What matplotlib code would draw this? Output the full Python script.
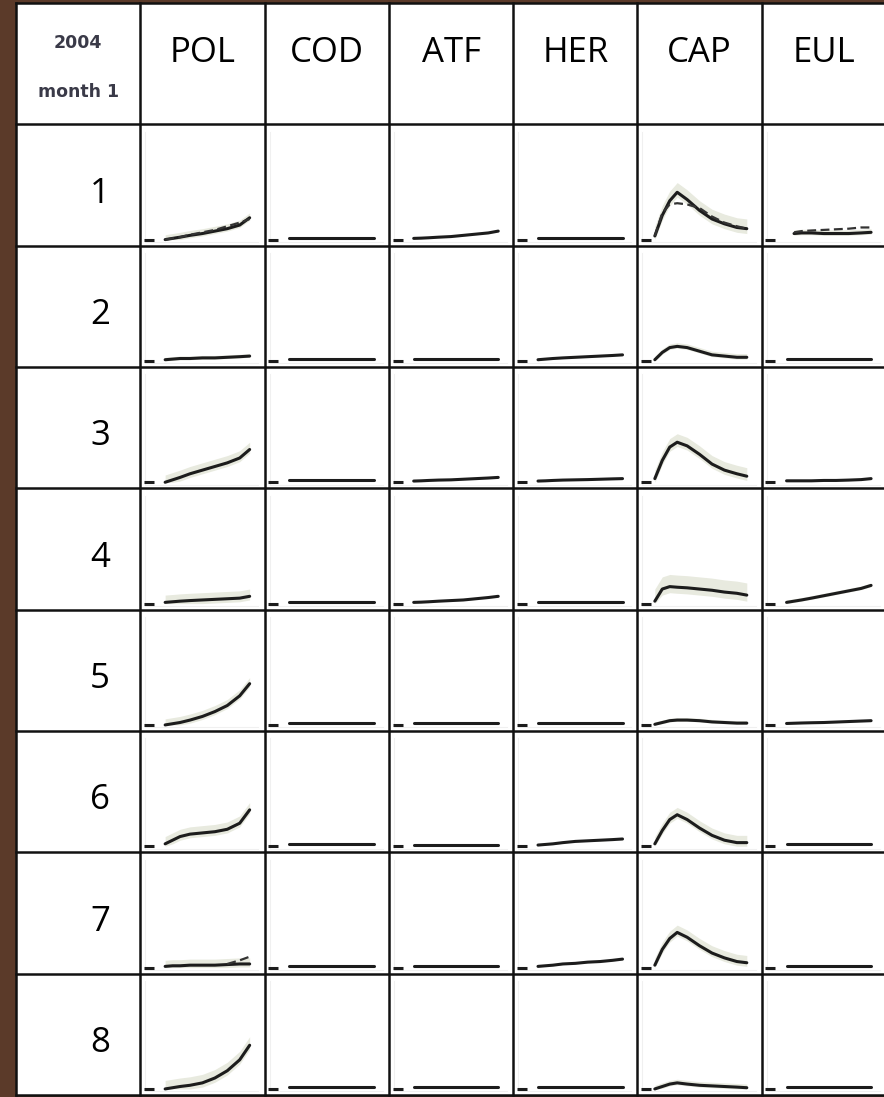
"""Monthly response curves per species, 2004"""

import numpy as np
import matplotlib
matplotlib.use("Agg")
from matplotlib import pyplot as plt

N = np.nan

# species across the top, months down the side
species = ["POL", "COD", "ATF", "HER", "CAP", "EUL"]
months = ["1", "2", "3", "4", "5", "6", "7", "8"]

# x positions inside a cell (fraction of cell width)
x_frac = [0.14, 0.20, 0.26, 0.32, 0.40, 0.50, 0.60, 0.70, 0.80, 0.88]

# curve height above the cell baseline (fraction of row height), one row per month
POL = [
    [N, 0.00, 0.01, 0.02, 0.035, 0.05, 0.07, 0.09, 0.12, 0.18],
    [N, 0.01, 0.015, 0.02, 0.02, 0.025, 0.025, 0.03, 0.035, 0.04],
    [N, 0.00, 0.02, 0.04, 0.07, 0.10, 0.13, 0.16, 0.20, 0.27],
    [N, 0.01, 0.015, 0.02, 0.025, 0.03, 0.035, 0.04, 0.045, 0.06],
    [N, 0.00, 0.01, 0.02, 0.04, 0.07, 0.11, 0.16, 0.24, 0.34],
    [N, 0.02, 0.05, 0.08, 0.10, 0.11, 0.12, 0.14, 0.19, 0.30],
    [N, 0.01, 0.015, 0.015, 0.02, 0.02, 0.02, 0.025, 0.03, 0.03],
    [N, 0.00, 0.01, 0.02, 0.03, 0.05, 0.09, 0.15, 0.24, 0.36],
]
COD = [
    [N, 0.015, 0.015, 0.015, 0.015, 0.015, 0.015, 0.015, 0.015, 0.015],
    [N, 0.012, 0.012, 0.012, 0.012, 0.012, 0.012, 0.012, 0.012, 0.012],
    [N, 0.015, 0.015, 0.015, 0.015, 0.015, 0.015, 0.015, 0.015, 0.015],
    [N, 0.012, 0.012, 0.012, 0.012, 0.012, 0.012, 0.012, 0.012, 0.012],
    [N, 0.015, 0.015, 0.015, 0.015, 0.015, 0.015, 0.015, 0.015, 0.015],
    [N, 0.015, 0.015, 0.015, 0.015, 0.015, 0.015, 0.015, 0.015, 0.015],
    [N, 0.015, 0.015, 0.015, 0.015, 0.015, 0.015, 0.015, 0.015, 0.015],
    [N, 0.012, 0.012, 0.012, 0.012, 0.012, 0.012, 0.012, 0.012, 0.012],
]
ATF = [
    [N, 0.01, 0.012, 0.015, 0.02, 0.025, 0.035, 0.045, 0.055, 0.07],
    [N, 0.012, 0.012, 0.012, 0.012, 0.012, 0.012, 0.012, 0.012, 0.012],
    [N, 0.01, 0.012, 0.015, 0.018, 0.02, 0.025, 0.03, 0.035, 0.04],
    [N, 0.01, 0.012, 0.015, 0.02, 0.025, 0.03, 0.04, 0.05, 0.06],
    [N, 0.012, 0.012, 0.012, 0.012, 0.012, 0.012, 0.012, 0.012, 0.012],
    [N, 0.012, 0.012, 0.012, 0.012, 0.012, 0.012, 0.012, 0.012, 0.012],
    [N, 0.012, 0.012, 0.012, 0.012, 0.012, 0.012, 0.012, 0.012, 0.012],
    [N, 0.012, 0.012, 0.012, 0.012, 0.012, 0.012, 0.012, 0.012, 0.012],
]
HER = [
    [N, 0.012, 0.012, 0.012, 0.012, 0.012, 0.012, 0.012, 0.012, 0.012],
    [N, 0.01, 0.015, 0.02, 0.025, 0.03, 0.035, 0.04, 0.045, 0.05],
    [N, 0.01, 0.012, 0.015, 0.018, 0.02, 0.022, 0.025, 0.028, 0.03],
    [N, 0.012, 0.012, 0.012, 0.012, 0.012, 0.012, 0.012, 0.012, 0.012],
    [N, 0.012, 0.012, 0.012, 0.012, 0.012, 0.012, 0.012, 0.012, 0.012],
    [N, 0.01, 0.015, 0.02, 0.03, 0.04, 0.045, 0.05, 0.055, 0.06],
    [N, 0.01, 0.015, 0.02, 0.03, 0.035, 0.045, 0.05, 0.06, 0.07],
    [N, 0.012, 0.012, 0.012, 0.012, 0.012, 0.012, 0.012, 0.012, 0.012],
]
CAP = [
    [0.03, 0.20, 0.32, 0.39, 0.33, 0.24, 0.17, 0.13, 0.10, 0.09],
    [0.01, 0.07, 0.11, 0.12, 0.11, 0.08, 0.05, 0.04, 0.03, 0.03],
    [0.03, 0.18, 0.29, 0.33, 0.30, 0.23, 0.15, 0.10, 0.07, 0.05],
    [0.02, 0.12, 0.14, 0.135, 0.13, 0.12, 0.11, 0.095, 0.085, 0.07],
    [0.005, 0.02, 0.035, 0.04, 0.04, 0.035, 0.025, 0.02, 0.015, 0.015],
    [0.02, 0.13, 0.22, 0.26, 0.22, 0.15, 0.09, 0.05, 0.03, 0.03],
    [0.02, 0.15, 0.24, 0.29, 0.25, 0.18, 0.12, 0.08, 0.05, 0.04],
    [0.00, 0.02, 0.04, 0.05, 0.04, 0.03, 0.025, 0.02, 0.015, 0.01],
]
EUL = [
    [N, N, 0.05, 0.055, 0.055, 0.05, 0.05, 0.05, 0.055, 0.06],
    [N, 0.012, 0.012, 0.012, 0.012, 0.012, 0.012, 0.012, 0.012, 0.012],
    [N, 0.012, 0.012, 0.012, 0.012, 0.015, 0.015, 0.018, 0.022, 0.03],
    [N, 0.01, 0.02, 0.03, 0.045, 0.065, 0.085, 0.105, 0.125, 0.15],
    [N, 0.012, 0.014, 0.016, 0.018, 0.02, 0.024, 0.028, 0.032, 0.035],
    [N, 0.015, 0.015, 0.015, 0.015, 0.015, 0.015, 0.015, 0.015, 0.015],
    [N, 0.012, 0.012, 0.012, 0.012, 0.012, 0.012, 0.012, 0.012, 0.012],
    [N, 0.012, 0.012, 0.012, 0.012, 0.012, 0.012, 0.012, 0.012, 0.012],
]
curves = [POL, COD, ATF, HER, CAP, EUL]

# half-width of the pale confidence band per cell
band_POL = [0.04, 0.02, 0.06, 0.06, 0.05, 0.06, 0.05, 0.07]
band_COD = [0.0] * 8
band_ATF = [0.01, 0.0, 0.0, 0.01, 0.0, 0.0, 0.0, 0.0]
band_HER = [0.0, 0.01, 0.0, 0.0, 0.0, 0.01, 0.01, 0.0]
band_CAP = [0.08, 0.03, 0.07, 0.10, 0.02, 0.06, 0.06, 0.03]
band_EUL = [0.03, 0.0, 0.01, 0.02, 0.01, 0.0, 0.0, 0.0]
bands = [band_POL, band_COD, band_ATF, band_HER, band_CAP, band_EUL]

# second (dashed) fit where it separates from the solid one
dashed_lines = {
    (0, 0): [N, 0.0, 0.01, 0.02, 0.04, 0.06, 0.08, 0.11, 0.14, 0.17],
    (0, 6): [N, N, N, N, N, N, N, 0.03, 0.06, 0.09],
    (4, 0): [0.03, 0.22, 0.29, 0.30, 0.29, 0.26, 0.19, 0.14, 0.11, 0.09],
    (5, 0): [N, N, 0.06, 0.07, 0.075, 0.08, 0.085, 0.09, 0.10, 0.10],
}

W, H = 884, 1097
fig = plt.figure(figsize=(W / 100, H / 100), dpi=100)
fig.patch.set_facecolor("#5b3a29")

# grid area: left edge at x=16, right edge just past the picture
ax = fig.add_axes([16 / W, 2 / H, 870 / W, 1092 / H])
ax.set_facecolor("white")
ax.set_xlim(0, 7)
ax.set_ylim(9, 0)
ax.set_xticks([])
ax.set_yticks([])
for sp in ax.spines.values():
    sp.set_visible(False)

ncol, nrow = 7, 9
base = 0.05  # baseline above the bottom of each cell

for c in range(1, ncol):
    for r in range(1, nrow):
        # faint frame of the small inner plot
        ax.plot([c + 0.04, c + 0.04, c + 0.95], [r + 0.06, r + 1 - 0.03, r + 1 - 0.03],
                color="#f0f0f0", lw=0.8, zorder=1)
        s, m = c - 1, r - 1
        xs = c + np.array(x_frac)
        v = np.array(curves[s][m], dtype=float)
        y0 = r + 1 - base
        w = bands[s][m]
        if w > 0:
            ok = ~np.isnan(v)
            ax.fill_between(xs[ok], y0 - v[ok] - w, y0 - np.maximum(v[ok] - w * 0.5, 0),
                            color="#e8eadf", lw=0, zorder=2)
        # short stub at the start of each curve
        ax.plot([c + 0.03, c + 0.11], [y0, y0], color="#1c1c1c", lw=2.2, zorder=3,
                solid_capstyle="butt")
        ax.plot(xs, y0 - v, color="#1c1c1c", lw=2.2, zorder=3, solid_capstyle="round")
        if (s, m) in dashed_lines:
            d = np.array(dashed_lines[(s, m)], dtype=float)
            ax.plot(xs, y0 - d, color="#333333", lw=1.6, ls=(0, (4, 2)), zorder=3)

# grid lines
for c in range(ncol + 1):
    ax.plot([c, c], [0, nrow], color="#111111", lw=1.8, zorder=5, clip_on=False)
for r in range(nrow + 1):
    ax.plot([0, ncol], [r, r], color="#111111", lw=1.8, zorder=5, clip_on=False)

# header row
for i, name in enumerate(species):
    ax.text(i + 1.5, 0.487, name, ha="center", va="baseline", fontsize=25,
            family="Open Sans", color="black", zorder=6)
ax.text(0.5, 0.37, "2004", ha="center", va="baseline", fontsize=12.5,
        family="DejaVu Sans", weight="bold", color="#3a3a48", zorder=6)
ax.text(0.5, 0.775, "month 1", ha="center", va="baseline", fontsize=12.5,
        family="DejaVu Sans", weight="bold", color="#3a3a48", zorder=6)

# month labels
for j, mo in enumerate(months):
    ax.text(0.676, j + 1.645, mo, ha="center", va="baseline", fontsize=25,
            family="Open Sans", color="black", zorder=6)

fig.savefig("out.png", dpi=100, facecolor=fig.get_facecolor())
